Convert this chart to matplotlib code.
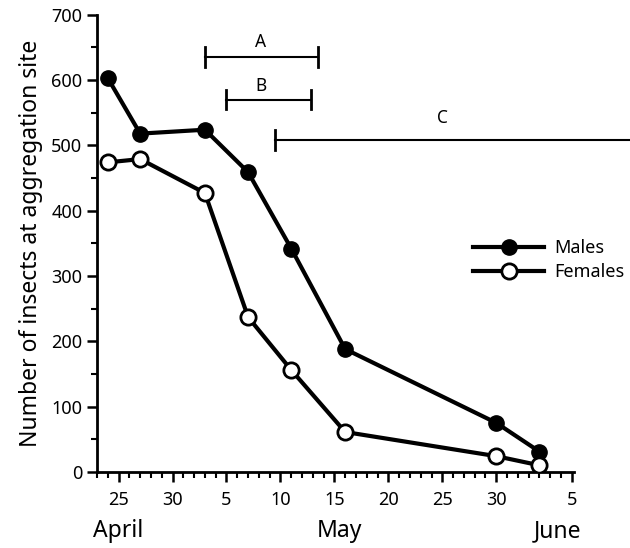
import matplotlib.pyplot as plt
from matplotlib.lines import Line2D

plt.rcParams['font.family'] = ['Noto Sans', 'DejaVu Sans']

# days counted from 1 April (May 1 = 31, June 1 = 62)
sample_days = [24, 27, 33, 37, 41, 46, 60, 64]
males = [603, 518, 524, 459, 342, 188, 75, 31]
females = [474, 479, 427, 237, 156, 61, 24, 10]

tick_days = [25, 30, 35, 40, 45, 50, 55, 60, 67]
tick_labels = ['25', '30', '5', '10', '15', '20', '25', '30', '5']
months = ['April', 'May', 'June']
month_days = [25, 45.5, 65.7]

# behaviour periods: label, start day, end day, bar height, label position
periods = ['A', 'B', 'C']
period_start = [33, 35, 39.5]
period_end = [43.5, 42.8, 72.5]
period_level = [635, 570, 508]
period_label_day = [38.2, 38.2, 55]
period_label_y = [658, 591, 542]

fig = plt.figure(figsize=(6.3, 5.48), dpi=100)
ax = fig.add_axes([0.154, 0.139, 0.757, 0.834])

ax.plot(sample_days, males, color='black', lw=3, marker='o', ms=11,
        mfc='black', mec='black', zorder=3)
ax.plot(sample_days, females, color='black', lw=3, marker='o', ms=11,
        mfc='white', mec='black', mew=2, zorder=3)

for lab, x0, x1, y, xl, yl in zip(periods, period_start, period_end, period_level,
                                  period_label_day, period_label_y):
    ax.plot([x0, x1], [y, y], color='black', lw=1.5, clip_on=False)
    ax.plot([x0, x0], [y - 15, y + 15], color='black', lw=2)
    if lab != 'C':
        ax.plot([x1, x1], [y - 15, y + 15], color='black', lw=2)
    ax.text(xl, yl, lab, ha='center', va='center', fontsize=12.5)

ax.set_xlim(23, 67.2)
ax.set_ylim(0, 700)
ax.set_xticks(tick_days)
ax.set_xticklabels(tick_labels, fontsize=13)
ax.set_xticks(range(23, 68), minor=True)
ax.set_yticks(range(0, 701, 100))
ax.set_yticks(range(0, 701, 50), minor=True)
ax.tick_params(axis='y', labelsize=13)
ax.tick_params(which='major', length=7, width=1.8)
ax.tick_params(which='minor', length=4, width=1.5)
ax.tick_params(axis='x', pad=7)

for s in ['top', 'right']:
    ax.spines[s].set_visible(False)
for s in ['left', 'bottom']:
    ax.spines[s].set_linewidth(2)

ax.set_ylabel('Number of insects at aggregation site', fontsize=16.5, labelpad=6)

for m, d in zip(months, month_days):
    ax.text(d, -0.13, m, transform=ax.get_xaxis_transform(),
            ha='center', va='center', fontsize=16.5)

handles = [
    Line2D([], [], color='black', lw=3, marker='o', ms=11, mfc='black', mec='black'),
    Line2D([], [], color='black', lw=3, marker='o', ms=11, mfc='white', mec='black', mew=2),
]
ax.legend(handles, ['Males', 'Females'], loc='upper left', bbox_to_anchor=(0.755, 0.545),
          frameon=False, fontsize=13, handlelength=3.9, handletextpad=0.6,
          labelspacing=0.35)

fig.savefig('out.png', dpi=100)
